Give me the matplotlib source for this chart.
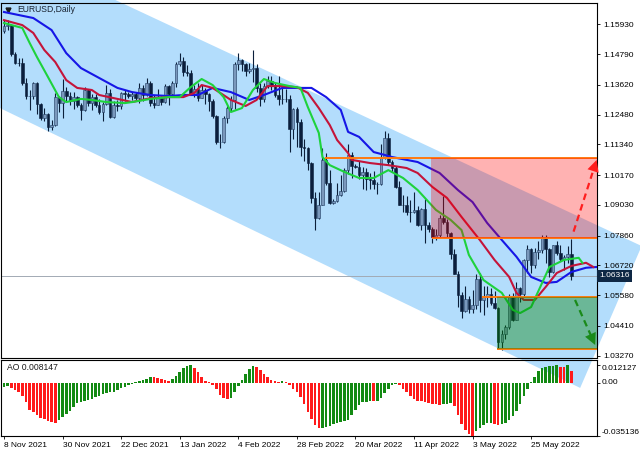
import numpy as np
import matplotlib.pyplot as plt
from matplotlib.patches import Polygon, Rectangle

plt.rcParams['font.family'] = ['Liberation Sans', 'DejaVu Sans']
plt.rcParams['font.size'] = 6

# EURUSD daily candles, 8 Nov 2021 .. 9 Jun 2022 (incl. two Sunday bars in March)
opens = [
    1.1567, 1.1587, 1.1592, 1.1479, 1.1446, 1.1445, 1.1368, 1.1319, 1.1320, 1.1370,
    1.1288, 1.1236, 1.1249, 1.1199, 1.1208, 1.1317, 1.1291, 1.1337, 1.1320, 1.1299,
    1.1315, 1.1285, 1.1267, 1.1343, 1.1291, 1.1317, 1.1285, 1.1258, 1.1289, 1.1330,
    1.1239, 1.1283, 1.1280, 1.1329, 1.1327, 1.1320, 1.1327, 1.1310, 1.1350, 1.1324,
    1.1370, 1.1294, 1.1286, 1.1313, 1.1296, 1.1359, 1.1326, 1.1368, 1.1442, 1.1454,
    1.1411, 1.1407, 1.1326, 1.1344, 1.1313, 1.1343, 1.1325, 1.1301, 1.1242, 1.1143,
    1.1145, 1.1234, 1.1272, 1.1302, 1.1440, 1.1455, 1.1442, 1.1415, 1.1423, 1.1425,
    1.1349, 1.1306, 1.1358, 1.1375, 1.1361, 1.1322, 1.1307, 1.1308, 1.1307, 1.1192,
    1.1270, 1.1219, 1.1124, 1.1120, 1.1064, 1.0929, 1.0855, 1.0902, 1.1076, 1.0985,
    1.0912, 1.0918, 1.0940, 1.0955, 1.1035, 1.1093, 1.1051, 1.1049, 1.1016, 1.1029,
    1.1003, 1.0999, 1.0983, 1.0983, 1.1088, 1.1158, 1.1067, 1.1045, 1.0970, 1.0904,
    1.0902, 1.0877, 1.0876, 1.0885, 1.0828, 1.0888, 1.0826, 1.0810, 1.0780, 1.0788,
    1.0852, 1.0836, 1.0796, 1.0716, 1.0641, 1.0558, 1.0497, 1.0545, 1.0505, 1.0521,
    1.0620, 1.0540, 1.0550, 1.0561, 1.0530, 1.0511, 1.0380, 1.0411, 1.0436, 1.0554,
    1.0465, 1.0585, 1.0561, 1.0691, 1.0734, 1.0675, 1.0725, 1.0732, 1.0779, 1.0733,
    1.0647, 1.0750, 1.0720, 1.0696, 1.0706, 1.0716]
highs = [
    1.1609, 1.1608, 1.1594, 1.1486, 1.1464, 1.1464, 1.1386, 1.1343, 1.1374, 1.1374,
    1.1292, 1.1275, 1.1253, 1.1228, 1.1330, 1.1320, 1.1383, 1.1352, 1.1335, 1.1333,
    1.1321, 1.1292, 1.1355, 1.1346, 1.1326, 1.1326, 1.1307, 1.1296, 1.1360, 1.1345,
    1.1299, 1.1302, 1.1336, 1.1342, 1.1335, 1.1334, 1.1336, 1.1369, 1.1360, 1.1386,
    1.1376, 1.1323, 1.1346, 1.1318, 1.1364, 1.1362, 1.1375, 1.1450, 1.1482, 1.1469,
    1.1437, 1.1417, 1.1362, 1.1369, 1.1363, 1.1349, 1.1331, 1.1306, 1.1245, 1.1175,
    1.1243, 1.1280, 1.1318, 1.1450, 1.1483, 1.1459, 1.1445, 1.1447, 1.1495, 1.1443,
    1.1368, 1.1367, 1.1396, 1.1395, 1.1369, 1.1395, 1.1360, 1.1344, 1.1322, 1.1273,
    1.1277, 1.1233, 1.1153, 1.1124, 1.1068, 1.0952, 1.0951, 1.1121, 1.1101, 1.1037,
    1.0925, 1.0985, 1.1019, 1.1044, 1.1137, 1.1105, 1.1058, 1.1070, 1.1047, 1.1045,
    1.1025, 1.1033, 1.0990, 1.1137, 1.1184, 1.1176, 1.1076, 1.1053, 1.0994, 1.0941,
    1.0937, 1.0922, 1.0953, 1.0899, 1.0893, 1.0924, 1.0838, 1.0819, 1.0812, 1.0866,
    1.0936, 1.0850, 1.0798, 1.0736, 1.0652, 1.0571, 1.0595, 1.0554, 1.0577, 1.0641,
    1.0642, 1.0592, 1.0595, 1.0585, 1.0576, 1.0514, 1.0425, 1.0443, 1.0563, 1.0566,
    1.0607, 1.0590, 1.0698, 1.0749, 1.0737, 1.0738, 1.0765, 1.0787, 1.0787, 1.0737,
    1.0750, 1.0764, 1.0750, 1.0710, 1.0748, 1.0774]
lows = [
    1.1560, 1.1570, 1.1472, 1.1443, 1.1432, 1.1360, 1.1309, 1.1264, 1.1309, 1.1250,
    1.1226, 1.1224, 1.1186, 1.1190, 1.1205, 1.1259, 1.1235, 1.1298, 1.1286, 1.1271,
    1.1276, 1.1227, 1.1263, 1.1280, 1.1266, 1.1276, 1.1252, 1.1222, 1.1284, 1.1235,
    1.1235, 1.1262, 1.1268, 1.1300, 1.1311, 1.1303, 1.1299, 1.1293, 1.1300, 1.1320,
    1.1280, 1.1272, 1.1285, 1.1285, 1.1292, 1.1286, 1.1316, 1.1355, 1.1433, 1.1394,
    1.1395, 1.1322, 1.1314, 1.1299, 1.1311, 1.1288, 1.1263, 1.1235, 1.1136, 1.1121,
    1.1139, 1.1216, 1.1263, 1.1271, 1.1417, 1.1413, 1.1395, 1.1407, 1.1373, 1.1333,
    1.1280, 1.1296, 1.1350, 1.1343, 1.1316, 1.1285, 1.1289, 1.1295, 1.1106, 1.1154,
    1.1123, 1.1091, 1.1069, 1.1038, 1.0911, 1.0806, 1.0851, 1.0901, 1.0980, 1.0905,
    1.0908, 1.0913, 1.0939, 1.0951, 1.1023, 1.1004, 1.1045, 1.1001, 1.0963, 1.0961,
    1.0965, 1.0965, 1.0945, 1.0980, 1.1080, 1.1056, 1.1028, 1.0968, 1.0901, 1.0875,
    1.0866, 1.0837, 1.0871, 1.0821, 1.0806, 1.0757, 1.0800, 1.0759, 1.0770, 1.0779,
    1.0830, 1.0780, 1.0698, 1.0639, 1.0515, 1.0471, 1.0493, 1.0490, 1.0492, 1.0505,
    1.0493, 1.0483, 1.0515, 1.0520, 1.0504, 1.0354, 1.0349, 1.0389, 1.0430, 1.0458,
    1.0462, 1.0532, 1.0555, 1.0643, 1.0642, 1.0661, 1.0697, 1.0721, 1.0682, 1.0627,
    1.0642, 1.0712, 1.0690, 1.0653, 1.0680, 1.0615]
closes = [
    1.1587, 1.1592, 1.1479, 1.1446, 1.1445, 1.1368, 1.1319, 1.1320, 1.1370, 1.1288,
    1.1236, 1.1249, 1.1199, 1.1208, 1.1317, 1.1291, 1.1337, 1.1320, 1.1299, 1.1315,
    1.1285, 1.1267, 1.1343, 1.1291, 1.1317, 1.1285, 1.1258, 1.1289, 1.1330, 1.1239,
    1.1283, 1.1280, 1.1329, 1.1327, 1.1320, 1.1327, 1.1310, 1.1350, 1.1324, 1.1370,
    1.1294, 1.1286, 1.1313, 1.1296, 1.1359, 1.1326, 1.1368, 1.1442, 1.1454, 1.1411,
    1.1407, 1.1326, 1.1344, 1.1313, 1.1343, 1.1325, 1.1301, 1.1242, 1.1143, 1.1145,
    1.1234, 1.1272, 1.1302, 1.1440, 1.1455, 1.1442, 1.1415, 1.1423, 1.1425, 1.1349,
    1.1306, 1.1358, 1.1375, 1.1361, 1.1322, 1.1307, 1.1308, 1.1307, 1.1192, 1.1270,
    1.1219, 1.1124, 1.1120, 1.1064, 1.0929, 1.0855, 1.0902, 1.1076, 1.0985, 1.0912,
    1.0918, 1.0940, 1.0955, 1.1035, 1.1093, 1.1051, 1.1049, 1.1016, 1.1029, 1.1003,
    1.0999, 1.0983, 1.0983, 1.1088, 1.1158, 1.1067, 1.1045, 1.0970, 1.0904, 1.0902,
    1.0877, 1.0876, 1.0885, 1.0828, 1.0888, 1.0826, 1.0810, 1.0780, 1.0788, 1.0852,
    1.0836, 1.0796, 1.0716, 1.0641, 1.0558, 1.0497, 1.0545, 1.0505, 1.0521, 1.0620,
    1.0540, 1.0550, 1.0561, 1.0530, 1.0511, 1.0380, 1.0411, 1.0436, 1.0554, 1.0465,
    1.0585, 1.0561, 1.0691, 1.0734, 1.0675, 1.0725, 1.0732, 1.0779, 1.0733, 1.0647,
    1.0750, 1.0720, 1.0696, 1.0706, 1.0716, 1.06316]

# Alligator lines (bar index, price)
jaw_x = [0, 8, 13, 17, 21, 26, 31, 35, 40, 45, 49, 53, 57, 62, 67, 71, 76, 84, 88, 92,
         94, 97, 101, 104, 106, 113, 119, 124, 128, 132, 136, 140, 144, 148, 151, 155, 159, 163]
jaw_y = [1.1640, 1.1617, 1.1571, 1.1483, 1.1426, 1.1388, 1.1350, 1.1334, 1.1323, 1.1319,
         1.1323, 1.1323, 1.1350, 1.1334, 1.1304, 1.1323, 1.1350, 1.1350, 1.1315, 1.1266,
         1.1182, 1.1163, 1.1105, 1.1094, 1.1086, 1.1067, 1.1025, 1.0960, 1.0914, 1.0834,
         1.0769, 1.0705, 1.0628, 1.0605, 1.0609, 1.0647, 1.0663, 1.0667]
teeth_x = [0, 5, 8, 11, 14, 17, 20, 24, 26, 31, 35, 40, 45, 49, 52, 54, 57, 62, 66, 69,
           72, 76, 80, 83, 86, 89, 91, 94, 95, 100, 105, 110, 113, 117, 121, 125, 130, 134,
           138, 140, 142, 145, 148, 151, 155, 159, 161]
teeth_y = [1.1609, 1.1590, 1.1560, 1.1495, 1.1449, 1.1380, 1.1350, 1.1342, 1.1323, 1.1308,
           1.1296, 1.1311, 1.1315, 1.1315, 1.1331, 1.1361, 1.1350, 1.1304, 1.1281, 1.1304,
           1.1357, 1.1357, 1.1353, 1.1331, 1.1273, 1.1208, 1.1151, 1.1101, 1.1075, 1.1063,
           1.1055, 1.1044, 1.1025, 1.0972, 1.0930, 1.0857, 1.0769, 1.0693, 1.0628, 1.0567,
           1.0540, 1.0540, 1.0590, 1.0643, 1.0670, 1.0682, 1.0666]
lips_x = [0, 5, 7, 9, 12, 15, 17, 21, 24, 28, 33, 35, 40, 45, 48, 51, 54, 57, 60, 62,
          65, 68, 71, 74, 78, 81, 83, 86, 87, 89, 93, 97, 101, 105, 109, 113, 118, 122, 125, 127,
          131, 136, 139, 141, 144, 147, 149, 153, 157, 158]
lips_y = [1.1598, 1.1579, 1.1522, 1.1468, 1.1392, 1.1315, 1.1296, 1.1308, 1.1304, 1.1296,
          1.1292, 1.1296, 1.1308, 1.1315, 1.1315, 1.1353, 1.1384, 1.1361, 1.1315, 1.1258,
          1.1273, 1.1342, 1.1384, 1.1369, 1.1357, 1.1350, 1.1277, 1.1178, 1.1086, 1.1055,
          1.1029, 1.1006, 1.1006, 1.1036, 1.1006, 1.0960, 1.0884, 1.0846, 1.0807, 1.0712,
          1.0616, 1.0567, 1.0502, 1.0490, 1.0513, 1.0605, 1.0666, 1.0693, 1.0701, 1.0682]

# Awesome Oscillator values per bar
ao_values = [
    -0.0024, -0.0021, -0.0029, -0.0044, -0.0056, -0.0084, -0.0122, -0.0178, -0.0189, -0.0211,
    -0.0229, -0.0238, -0.0249, -0.0258, -0.0262, -0.0244, -0.0226, -0.0204, -0.0182, -0.0155,
    -0.0133, -0.0122, -0.0118, -0.0111, -0.0104, -0.0093, -0.0084, -0.0073, -0.0067, -0.0060,
    -0.0056, -0.0044, -0.0033, -0.0022, -0.0011, -0.0002, 0.0011, 0.0018, 0.0022, 0.0029,
    0.0044, 0.0040, 0.0033, 0.0027, 0.0022, 0.0018, 0.0029, 0.0049, 0.0078, 0.0100,
    0.0115, 0.0121, 0.0100, 0.0073, 0.0040, 0.0018, 0.0008, -0.0012, -0.0040, -0.0075,
    -0.0098, -0.0104, -0.0101, -0.0060, -0.0015, 0.0025, 0.0065, 0.0095, 0.0118, 0.0112,
    0.0090, 0.0060, 0.0040, 0.0025, 0.0018, 0.0012, 0.0016, 0.0008, -0.0012, -0.0035,
    -0.0055, -0.0090, -0.0140, -0.0190, -0.0240, -0.0275, -0.0300, -0.0296, -0.0290, -0.0282,
    -0.0272, -0.0262, -0.0255, -0.0250, -0.0245, -0.0212, -0.0178, -0.0148, -0.0126, -0.0122,
    -0.0120, -0.0121, -0.0116, -0.0100, -0.0068, -0.0035, -0.0012, -0.0003, -0.0010, -0.0035,
    -0.0055, -0.0088, -0.0108, -0.0115, -0.0120, -0.0124, -0.0130, -0.0135, -0.0140, -0.0142,
    -0.0140, -0.0138, -0.0132, -0.0150, -0.0210, -0.0270, -0.0310, -0.0335, -0.035136, -0.0318,
    -0.0300, -0.0280, -0.0268, -0.0262, -0.0270, -0.0275, -0.0272, -0.0262, -0.0245, -0.0215,
    -0.0185, -0.0140, -0.0085, -0.0040, 0.0012, 0.0040, 0.0080, 0.0100, 0.0110, 0.0114,
    0.0118, 0.0119, 0.0110, 0.0106, 0.012127, 0.008147]

price_ticks = [1.15930, 1.14790, 1.13620, 1.12480, 1.11340, 1.10170, 1.09030,
               1.07860, 1.06720, 1.05580, 1.04410, 1.03270]
date_labels = ['8 Nov 2021', '30 Nov 2021', '22 Dec 2021', '13 Jan 2022', '4 Feb 2022',
               '28 Feb 2022', '20 Mar 2022', '11 Apr 2022', '3 May 2022', '25 May 2022']
date_bars = [0, 16, 32, 48, 64, 80, 96, 112, 128, 144]

# drawn objects (bar index, price)
channel_bar = [-6.6, -6.6, 157.4, 174.2]
channel_price = [1.1928, 1.1310, 1.0204, 1.0746]
level_start = [87.7, 117.0, 130.6, 134.7]
level_price = [1.1083, 1.0776, 1.0551, 1.0353]
sell_zone = (116.7, 1.0776, 1.1083)
buy_zone = (134.7, 1.0353, 1.0551)
up_arrow = (155.6, 1.0801, 161.9, 1.1075)
down_arrow = (156.0, 1.0540, 161.5, 1.0368)

last_price = closes[-1]
bars = np.arange(len(closes))
x_max = 162.0

fig = plt.figure(figsize=(6.4, 4.57), dpi=100)
ax = fig.add_axes([1 / 640, 1 - 358 / 457, 596 / 640, 355 / 457])
ao_ax = fig.add_axes([1 / 640, 1 - 436 / 457, 596 / 640, 76 / 457])
for a in (ax, ao_ax):
    a.set_facecolor('none')
    a.set_xlim(-0.82, x_max)
    for s in a.spines.values():
        s.set_color('black')
        s.set_linewidth(0.8)
    a.yaxis.tick_right()
    a.tick_params(axis='y', direction='out', length=2.5, width=0.6, pad=2, labelsize=6)

ax.set_ylim(1.03183, 1.16744)

# blue channel
ax.add_patch(Polygon(list(zip(channel_bar, channel_price)), closed=True,
                     facecolor='#B3DDFC', edgecolor='none', zorder=0, clip_on=False))

ax.axhline(last_price, color='#A2AAB4', lw=0.7, zorder=1)

# candles
o = np.array(opens)
c = np.array(closes)
up = c >= o
ax.vlines(bars, lows, highs, color='#0B1F3A', lw=0.8, zorder=2)
body_lo = np.minimum(o, c)
body_h = np.maximum(np.abs(c - o), 0.00015)
ax.bar(bars[up], body_h[up], bottom=body_lo[up], width=0.72, color='#7A98BC',
       edgecolor='#1E3A60', linewidth=0.4, zorder=3)
ax.bar(bars[~up], body_h[~up], bottom=body_lo[~up], width=0.72, color='#0A1E3C',
       edgecolor='#0A1E3C', linewidth=0.4, zorder=3)

# alligator
ax.plot(jaw_x, jaw_y, color='#1616E6', lw=1.5, zorder=4)
ax.plot(teeth_x, teeth_y, color='#C4143A', lw=1.5, zorder=4)
ax.plot(lips_x, lips_y, color='#1ED23C', lw=1.5, zorder=4)

# levels and zones
ax.hlines(level_price, level_start, x_max, color='#FF7A10', lw=1.4, zorder=5)
ax.add_patch(Rectangle((sell_zone[0], sell_zone[1]), x_max - sell_zone[0],
                       sell_zone[2] - sell_zone[1], facecolor='#FF0000', alpha=0.3,
                       edgecolor='none', zorder=6))
ax.add_patch(Rectangle((buy_zone[0], buy_zone[1]), x_max - buy_zone[0],
                       buy_zone[2] - buy_zone[1], facecolor='#008000', alpha=0.4,
                       edgecolor='none', zorder=6))

# dashed target arrows
for (x0, y0, x1, y1), col in ((up_arrow, '#FF1E1E'), (down_arrow, '#1A8A1A')):
    xm = x0 + 0.82 * (x1 - x0)
    ym = y0 + 0.82 * (y1 - y0)
    ax.plot([x0, xm], [y0, ym], ls=(0, (3, 2)), color=col, lw=1.6, zorder=7)
    ax.annotate('', xy=(x1, y1), xytext=(x0, y0), zorder=7, annotation_clip=False,
                arrowprops=dict(arrowstyle='-|>,head_length=0.7,head_width=0.35',
                                color=col, lw=0, mutation_scale=12,
                                shrinkA=0, shrinkB=0))

ax.set_yticks(price_ticks)
ax.set_yticklabels([f'{p:.5f}' for p in price_ticks])
ax.tick_params(axis='x', bottom=False, labelbottom=False)

ax.text(1.004, last_price, f'{last_price:.5f}', transform=ax.get_yaxis_transform(),
        ha='left', va='center', color='white', fontsize=6, zorder=10, clip_on=False,
        bbox=dict(boxstyle='square,pad=0.3', facecolor='#0E2744', edgecolor='none'))

ax.plot([0.0117], [0.981], marker='v', ms=3.5, color='#1A1A1A', transform=ax.transAxes)
ax.text(0.027, 0.981, 'EURUSD,Daily', transform=ax.transAxes, ha='left', va='center',
        fontsize=6.2, color='#1A2433')

# AO window
ao = np.array(ao_values)
ao_colors = ['#138A13' if i == 0 or ao[i] > ao[i - 1] else '#FF1A1A' for i in range(len(ao))]
ao_ax.bar(bars, ao, width=0.7, color=ao_colors, zorder=3)
ao_ax.set_ylim(-0.03515, 0.01554)
ao_ax.set_yticks([0.012127, 0.0, -0.035136])
ao_ax.set_yticklabels(['', '', ''])
for val, txt in ((0.0102, '0.012127'), (0.0003, '0.00'), (-0.0325, '-0.035136')):
    ao_ax.text(1.0085, val, txt, transform=ao_ax.get_yaxis_transform(), ha='left',
               va='center', fontsize=6, clip_on=False)
ao_ax.text(0.010, 0.895, f'AO {ao_values[-1]:.6f}', transform=ao_ax.transAxes,
           ha='left', va='center', fontsize=6.2, color='#1A1A1A')

ao_ax.set_xticks(date_bars)
ao_ax.set_xticklabels(date_labels, ha='left')
ao_ax.tick_params(axis='x', direction='out', length=2.5, width=0.6, pad=2, labelsize=6)

fig.savefig('out.png', dpi=100)
